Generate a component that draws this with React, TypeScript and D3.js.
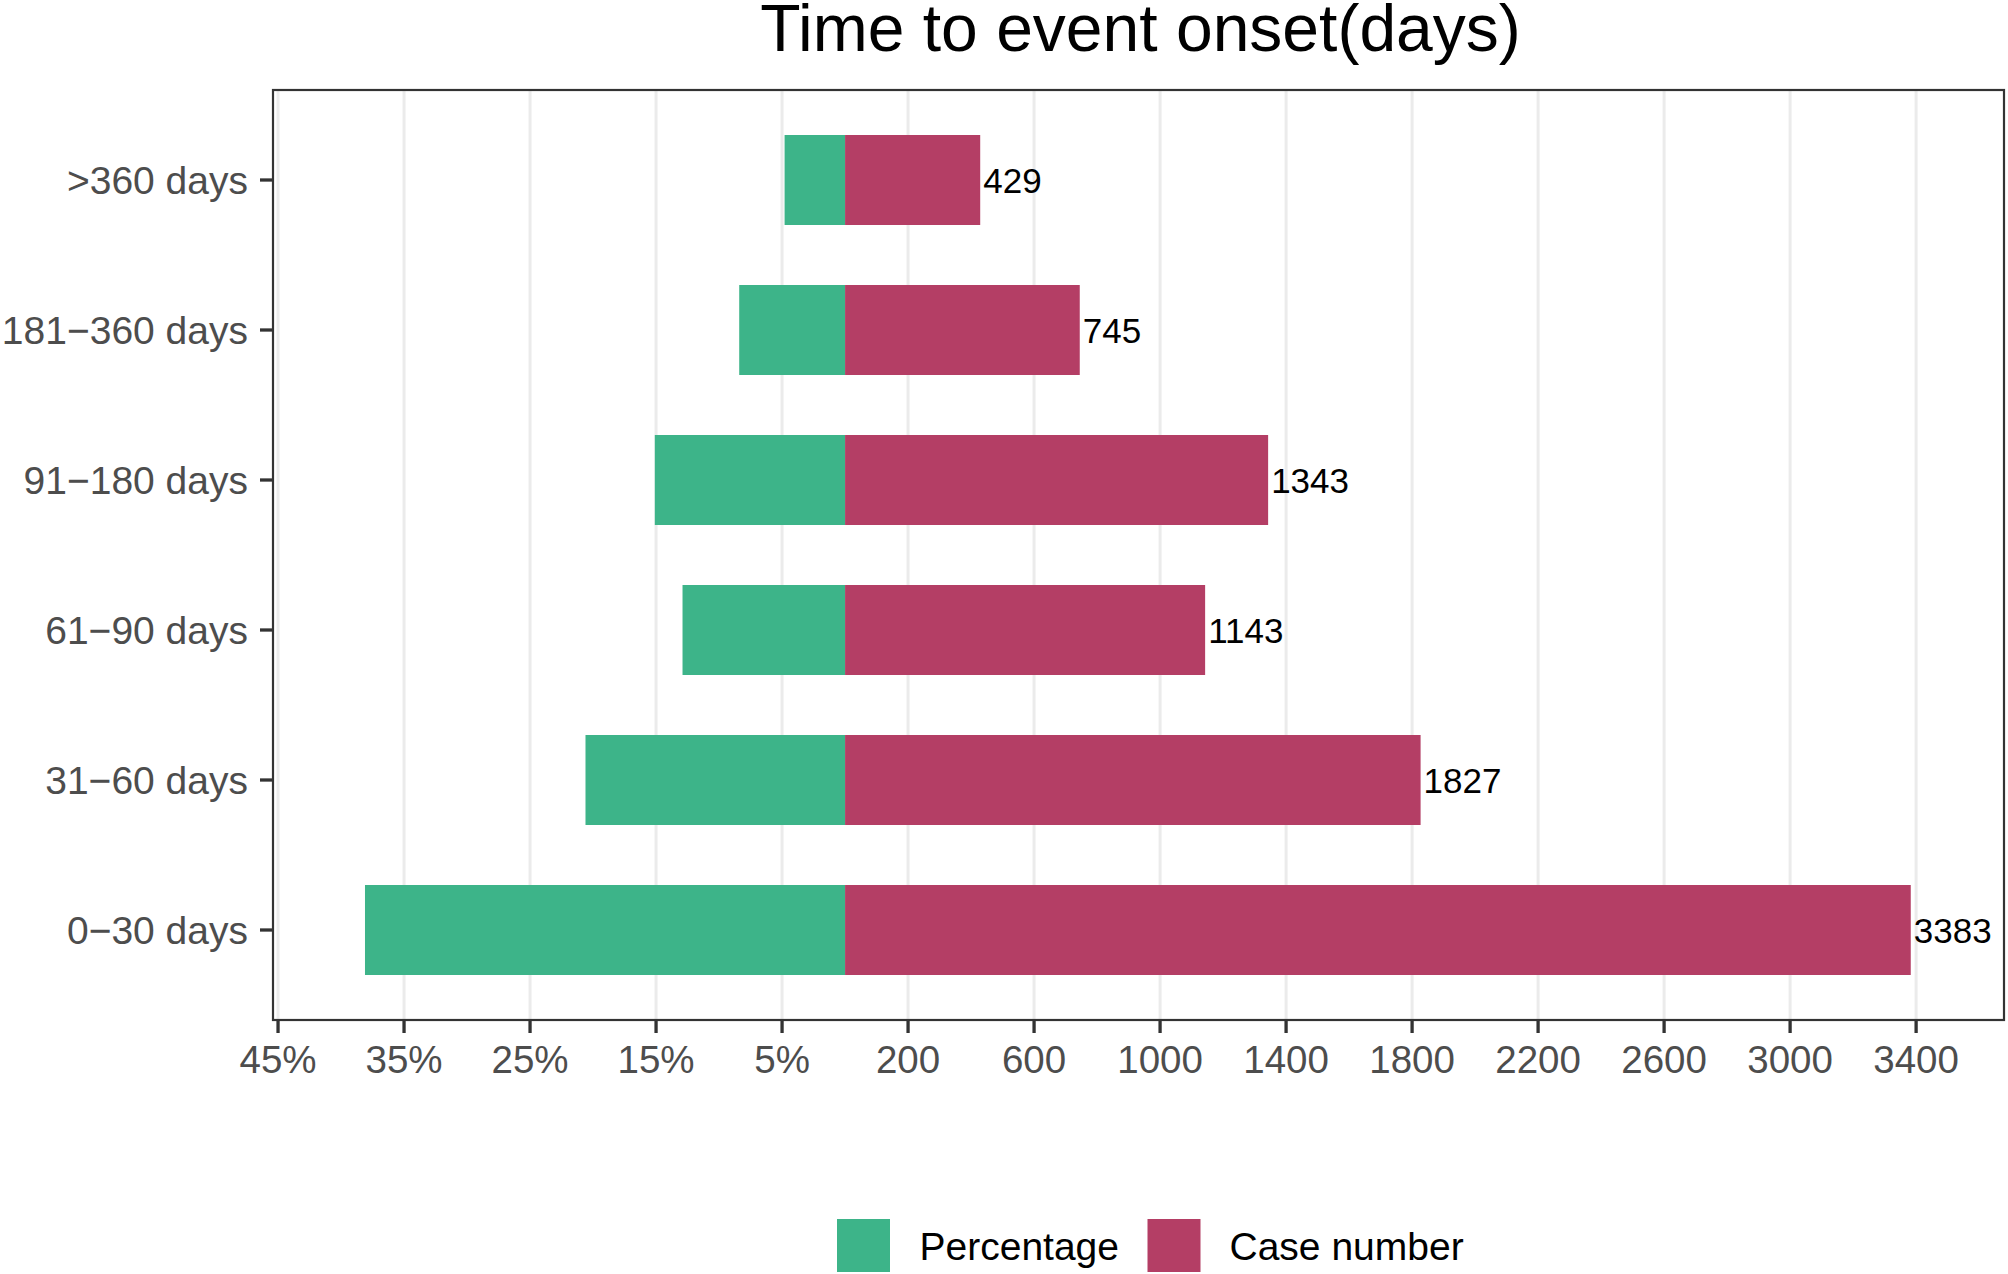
import React, { useEffect } from "react";
import * as d3 from "d3";

const categories = [">360 days", "181−360 days", "91−180 days", "61−90 days", "31−60 days", "0−30 days"];
const caseNumbers = [429, 745, 1343, 1143, 1827, 3383];
const percentages = [4.8, 8.4, 15.1, 12.9, 20.6, 38.1];
const pctTicks = [45, 35, 25, 15, 5];
const countTicks = [200, 600, 1000, 1400, 1800, 2200, 2600, 3000, 3400];
const legendLabels = ["Percentage", "Case number"];
const title = "Time to event onset(days)";

const PCT_UNIT = 40; // 1% drawn as 40 case units on the shared axis
const GREEN = "#3DB489";
const RED = "#B43E65";
const FONT = "'Liberation Sans', Arial, Helvetica, sans-serif";

export default function App() {
  useEffect(() => {
    document.body.style.margin = "0";
  }, []);

  const W = 2008;
  const H = 1274;
  const left = 273;
  const right = 2004;
  const top = 90;
  const bottom = 1020;

  const x = d3.scaleLinear().domain([-1816, 3679]).range([left, right]);
  const y = d3.scalePoint<string>().domain(categories).range([top, bottom]).padding(0.6);
  const barH = y.step() * 0.6;

  const tickVals = [...pctTicks.map((p) => -p * PCT_UNIT), ...countTicks];
  const tickLabel = (v: number) => (v < 0 ? `${Math.abs(v) / PCT_UNIT}%` : `${v}`);

  return (
    <svg
      width={W}
      height={H}
      style={{ position: "absolute", left: 0, top: 0, display: "block", background: "#fff" }}
      fontFamily={FONT}
    >
      <rect x={0} y={0} width={W} height={H} fill="#fff" />
      {/* gridlines */}
      {tickVals.map((v) => (
        <line key={"g" + v} x1={x(v)} x2={x(v)} y1={top} y2={bottom} stroke="#EBEBEB" strokeWidth={3} />
      ))}
      {/* bars */}
      {categories.map((c, i) => {
        const cy = y(c)!;
        const x0 = x(0);
        const xp = x(-percentages[i] * PCT_UNIT);
        const xc = x(caseNumbers[i]);
        return (
          <g key={c}>
            <rect x={xp} y={cy - barH / 2} width={x0 - xp} height={barH} fill={GREEN} />
            <rect x={x0} y={cy - barH / 2} width={xc - x0} height={barH} fill={RED} />
            <text x={xc + 3} y={cy + 13} fontSize={35} fill="#000">
              {caseNumbers[i]}
            </text>
          </g>
        );
      })}
      {/* panel border */}
      <rect x={left} y={top} width={right - left} height={bottom - top} fill="none" stroke="#333333" strokeWidth={2.2} />
      {/* x ticks */}
      {tickVals.map((v) => (
        <g key={"t" + v}>
          <line x1={x(v)} x2={x(v)} y1={bottom} y2={bottom + 13} stroke="#333333" strokeWidth={3.3} />
          <text x={x(v)} y={1073} fontSize={38.5} fill="#4D4D4D" textAnchor="middle">
            {tickLabel(v)}
          </text>
        </g>
      ))}
      {/* y ticks */}
      {categories.map((c) => (
        <g key={"y" + c}>
          <line x1={left - 13} x2={left} y1={y(c)!} y2={y(c)!} stroke="#333333" strokeWidth={3.3} />
          <text x={248} y={y(c)! + 14} fontSize={39} fill="#4D4D4D" textAnchor="end">
            {c}
          </text>
        </g>
      ))}
      {/* title */}
      <text x={(left + right) / 2 + 2} y={51} fontSize={66} fill="#000" textAnchor="middle">
        {title}
      </text>
      {/* legend */}
      {legendLabels.map((l, i) => {
        const kx = [837, 1147.5][i];
        const tx = [919.5, 1229.5][i];
        return (
          <g key={l}>
            <rect x={kx} y={1219} width={53} height={53} fill={i === 0 ? GREEN : RED} />
            <text x={tx} y={1260} fontSize={39} fill="#000">
              {l}
            </text>
          </g>
        );
      })}
    </svg>
  );
}
